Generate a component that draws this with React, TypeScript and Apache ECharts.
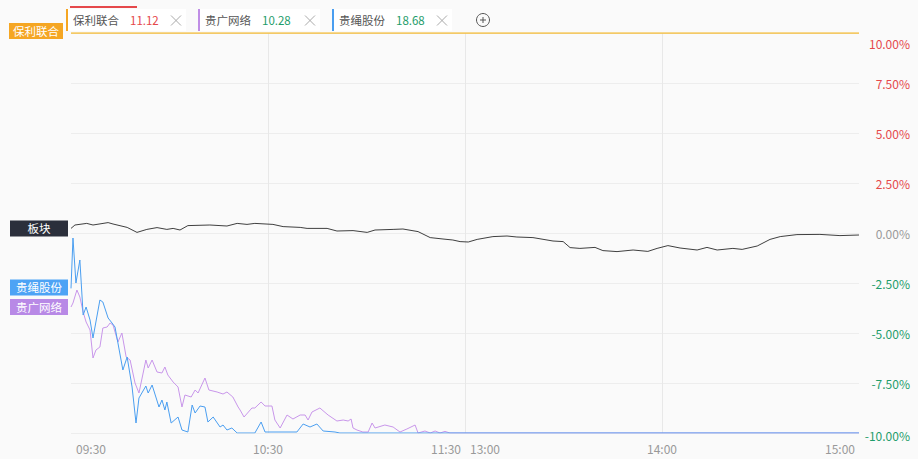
import React, { useEffect, useRef } from 'react';
import * as echarts from 'echarts';

// minutes since 09:30 (trading minutes, 0..240) and % change
const sectorMinutes = [0, 1.2, 4.8, 6.7, 11.3, 12.8, 17.1, 20.1, 23.1, 26.2, 29.2, 31.1, 33.2, 35.6, 42.3, 47.5, 50.6, 53.6, 56.0, 61.5, 64.6, 69.8, 71.9, 78.0, 81.0, 85.9, 90.2, 92.6, 98.1, 101.1, 105.7, 109.4, 113.3, 116.3, 118.5, 121, 123.7, 128.5, 132.8, 135.8, 140.7, 146.8, 149.9, 152.0, 155.0, 159.6, 162.0, 166.3, 171.2, 175.7, 178.5, 181.8, 185.5, 190.7, 193.7, 196.8, 201.6, 204.4, 209.0, 212.9, 216.0, 221.1, 228.1, 234.2, 240];
const sectorValues = [0.23, 0.4, 0.48, 0.4, 0.52, 0.45, 0.28, 0.03, 0.18, 0.27, 0.18, 0.23, 0.15, 0.37, 0.4, 0.35, 0.48, 0.43, 0.48, 0.43, 0.32, 0.28, 0.23, 0.23, 0.1, 0.12, 0.03, 0.15, 0.18, 0.2, 0.07, -0.23, -0.3, -0.35, -0.43, -0.45, -0.32, -0.18, -0.15, -0.2, -0.23, -0.4, -0.43, -0.73, -0.77, -0.72, -0.88, -0.93, -0.85, -0.92, -0.77, -0.63, -0.75, -0.85, -0.72, -0.85, -0.77, -0.82, -0.65, -0.32, -0.18, -0.08, -0.07, -0.13, -0.1];

const guishengMinutes = [0, 0.6, 1.5, 2.7, 3.7, 4.6, 5.8, 6.7, 8.8, 9.7, 11.3, 12.5, 13.4, 15.8, 17.1, 18.6, 19.8, 20.7, 22.8, 23.5, 24.7, 26.8, 27.7, 28.6, 29.2, 30.5, 32.6, 33.8, 35.6, 36.9, 37.8, 39.3, 40.8, 41.7, 43.3, 45.4, 46.3, 47.5, 49.0, 50.6, 56.0, 57.9, 59.1, 68.8, 70.7, 72.8, 74.9, 76.8, 80.4, 81.9, 240];
const guishengValues = [-2.77, -0.25, -2.5, -1.35, -4.1, -3.7, -4.35, -5.25, -3.35, -3.45, -4.25, -4.5, -4.7, -6.85, -6.2, -7.7, -9.5, -8.25, -7.65, -8.0, -7.6, -8.7, -8.35, -8.85, -8.45, -9.5, -9.2, -9.85, -9.95, -8.6, -9.0, -8.65, -8.7, -9.45, -9.2, -9.7, -9.6, -9.85, -9.75, -10, -10, -9.45, -9.95, -9.95, -9.55, -9.7, -9.55, -9.9, -9.95, -10, -10];

const guiguangMinutes = [0, 0.6, 1.8, 2.7, 3.7, 4.6, 5.8, 6.7, 7.6, 8.8, 9.7, 11.0, 11.9, 12.8, 14.3, 15.5, 16.8, 18.0, 19.5, 20.7, 22.8, 23.5, 24.7, 26.2, 27.7, 28.6, 29.5, 31.1, 32.6, 33.8, 34.7, 36.6, 37.8, 38.7, 40.8, 42.0, 44.5, 46.3, 47.5, 49.3, 50.9, 51.5, 52.7, 55.1, 56.0, 57.9, 59.1, 61.2, 62.1, 63.7, 65.8, 67.6, 69.8, 71.3, 72.2, 73.4, 75.8, 78.3, 81.0, 82.9, 84.4, 85.3, 85.9, 87.1, 88.9, 90.5, 91.7, 92.6, 95.6, 98.1, 100.2, 102.3, 104.8, 105.7, 107.8, 109.4, 110.9, 112.4, 113.9, 115.4, 240];
const guiguangValues = [-3.7, -3.5, -2.85, -3.2, -3.95, -4.45, -4.85, -6.25, -5.85, -5.7, -4.75, -4.7, -4.5, -4.6, -5.45, -5.0, -6.2, -6.35, -7.5, -8.0, -6.35, -6.75, -6.35, -6.95, -7.0, -6.7, -7.1, -7.45, -7.7, -8.7, -8.1, -8.2, -7.85, -8.0, -7.25, -7.85, -7.95, -8.05, -7.95, -8.2, -8.7, -8.85, -9.2, -8.75, -8.75, -8.45, -8.65, -8.65, -9.35, -9.75, -9.1, -9.3, -9.1, -9.1, -9.35, -8.95, -8.75, -9.1, -9.4, -9.35, -9.4, -9.3, -9.75, -9.85, -9.95, -9.95, -9.5, -9.75, -9.6, -9.7, -9.95, -9.8, -9.6, -10, -9.9, -10, -9.9, -10, -9.92, -10, -10];

const baoliMinutes = [0, 240];
const baoliValues = [10, 10];

const timeLabelsLeft: Record<number, string> = { 0: '09:30', 120: '13:00' };
const timeLabelsCenter: Record<number, string> = { 60: '10:30', 180: '14:00' };
const timeLabelsRight: Record<number, string> = { 120: '11:30', 240: '15:00' };

const tabNames = ['保利联合', '贵广网络', '贵绳股份'];
const tabPrices = ['11.12', '10.28', '18.68'];

const RED = '#e5484b';
const GREEN = '#1f9d6b';
const GRAY = '#999999';
const FONT = '"Noto Sans CJK SC", "Noto Sans", sans-serif';

const zip = (xs: number[], ys: number[]) => xs.map((x, i) => [x, ys[i]]);

function lineSeries(name: string, xs: number[], ys: number[], color: string, width: number, boxColor: string, boxW: number, offset: number[]) {
  return {
    name,
    type: 'line',
    data: zip(xs, ys),
    symbol: 'none',
    lineStyle: { width, color },
    itemStyle: { color },
    markPoint: {
      silent: true,
      symbol: 'rect',
      symbolSize: [boxW, 16],
      symbolOffset: offset,
      itemStyle: { color: boxColor },
      label: { show: true, position: 'inside', color: '#fff', fontSize: 11.5, fontFamily: FONT, formatter: name },
      data: [{ coord: [xs[0], ys[0]] }],
    },
  };
}

function xAxisFor(labels: Record<number, string>, align: string, padding: number[], showSplit: boolean) {
  return {
    type: 'value',
    min: 0,
    max: 240,
    interval: 60,
    position: 'bottom',
    axisLine: { show: false },
    axisTick: { show: false },
    splitLine: { show: showSplit, showMinLine: false, showMaxLine: false, lineStyle: { color: '#e8e8e8', width: 1 } },
    axisLabel: {
      show: true,
      showMinLabel: true,
      showMaxLabel: true,
      color: GRAY,
      fontSize: 12,
      fontFamily: FONT,
      margin: 9,
      align,
      padding,
      formatter: (v: number) => labels[Math.round(v)] || '',
    },
  };
}

export default function App() {
  const ref = useRef<HTMLDivElement>(null);
  useEffect(() => {
    if (!ref.current) return;
    const chart = echarts.init(ref.current, undefined, { renderer: 'svg' });

    const tabX = [66, 198, 332];
    const tabW = [120, 122, 120];
    const tabBorder = ['#f5a623', '#c08ee6', '#4a9ef0'];
    const priceColors = [RED, GREEN, GREEN];
    const graphics: any[] = [];
    tabNames.forEach((n, i) => {
      const x0 = tabX[i];
      graphics.push({ type: 'rect', shape: { x: x0, y: 9, width: tabW[i], height: 22 }, style: { fill: '#ffffff' }, silent: true });
      graphics.push({ type: 'rect', shape: { x: x0, y: 9, width: 2, height: 22 }, style: { fill: tabBorder[i] }, silent: true });
      graphics.push({ type: 'text', x: x0 + 7, y: 20, style: { text: n, fill: '#555', font: `11.5px ${FONT}`, textAlign: 'left', textVerticalAlign: 'middle', align: 'left', verticalAlign: 'middle' }, silent: true });
      graphics.push({ type: 'text', x: x0 + 64, y: 20, style: { text: tabPrices[i], fill: priceColors[i], font: `11.5px ${FONT}`, textAlign: 'left', textVerticalAlign: 'middle', align: 'left', verticalAlign: 'middle' }, silent: true });
      const cx = x0 + tabW[i] - 10;
      graphics.push({ type: 'line', shape: { x1: cx - 5, y1: 15.5, x2: cx + 5, y2: 25.5 }, style: { stroke: '#aaa', lineWidth: 1 }, silent: true });
      graphics.push({ type: 'line', shape: { x1: cx - 5, y1: 25.5, x2: cx + 5, y2: 15.5 }, style: { stroke: '#aaa', lineWidth: 1 }, silent: true });
    });
    graphics.push({ type: 'rect', shape: { x: 70, y: 6, width: 67, height: 2 }, style: { fill: RED }, silent: true });
    graphics.push({ type: 'circle', shape: { cx: 483, cy: 20, r: 6.5 }, style: { fill: 'none', stroke: '#555', lineWidth: 1 }, silent: true });
    graphics.push({ type: 'line', shape: { x1: 480, y1: 20, x2: 486, y2: 20 }, style: { stroke: '#555', lineWidth: 1 }, silent: true });
    graphics.push({ type: 'line', shape: { x1: 483, y1: 17, x2: 483, y2: 23 }, style: { stroke: '#555', lineWidth: 1 }, silent: true });

    chart.setOption({
      animation: false,
      backgroundColor: '#fafafa',
      textStyle: { fontFamily: FONT },
      grid: { left: 71, right: 59, top: 33, bottom: 26, containLabel: false },
      xAxis: [
        xAxisFor(timeLabelsLeft, 'left', [0, 0, 0, 5], true),
        xAxisFor(timeLabelsCenter, 'center', [0, 0, 0, 0], false),
        xAxisFor(timeLabelsRight, 'right', [0, 4, 0, 0], false),
      ],
      yAxis: {
        type: 'value',
        position: 'right',
        min: -10,
        max: 10,
        interval: 2.5,
        axisLine: { show: false },
        axisTick: { show: false },
        splitLine: { show: true, lineStyle: { color: '#ededed', width: 1 } },
        axisLabel: {
          margin: 51,
          align: 'right',
          fontSize: 12,
          fontFamily: FONT,
          formatter: (v: number) => (v >= 10 ? '{top|' + v.toFixed(2) + '%}' : v <= -10 ? '{bot|' + v.toFixed(2) + '%}' : v.toFixed(2) + '%'),
          color: (v: any) => (Number(v) > 0 ? RED : Number(v) < 0 ? GREEN : GRAY),
          rich: {
            top: { color: RED, fontSize: 12, fontFamily: FONT, padding: [20, 0, 0, 0] },
            bot: { color: GREEN, fontSize: 12, fontFamily: FONT, padding: [4, 0, 0, 0] },
          },
        },
      },
      graphic: graphics,
      series: [
        lineSeries('保利联合', baoliMinutes, baoliValues, '#f4bd3a', 1.5, '#f5a623', 54, [-35, -2]),
        lineSeries('板块', sectorMinutes, sectorValues, '#3f3f3f', 1, '#2b2f3b', 58, [-32, 0]),
        lineSeries('贵广网络', guiguangMinutes, guiguangValues, '#c896ea', 1, '#b889e6', 58, [-32, 0]),
        lineSeries('贵绳股份', guishengMinutes, guishengValues, '#4a9ef0', 1, '#4da3f5', 58, [-32, -1]),
      ],
    });
    return () => chart.dispose();
  }, []);
  return <div ref={ref} style={{ position: 'fixed', left: 0, top: 0, width: 918, height: 459 }} />;
}
